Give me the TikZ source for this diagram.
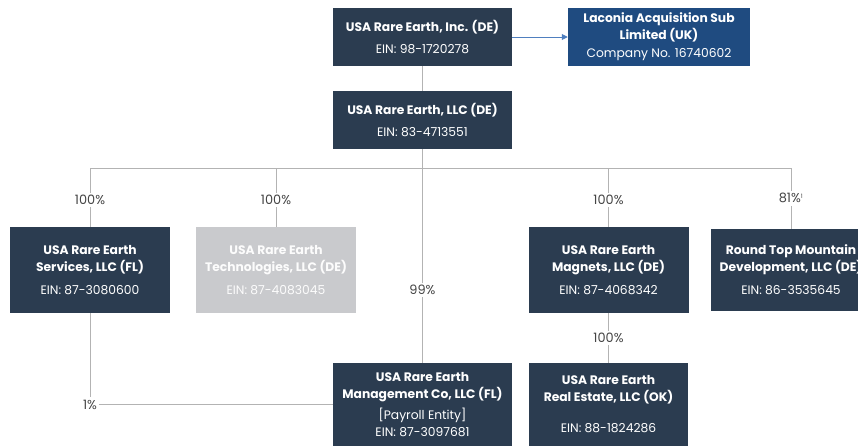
\documentclass[tikz,border=0pt]{standalone}
\usepackage{fontspec}
\setmainfont{Poppins}
\usepackage{tikz}
\usetikzlibrary{arrows.meta, calc, positioning}
\usepackage{xcolor}
\definecolor{navy}{HTML}{2B3C50}
\definecolor{ukblue}{HTML}{1F4B80}
\definecolor{techgray}{HTML}{C9CACD}
\definecolor{linegray}{HTML}{B3B3B3}
\definecolor{arrowblue}{HTML}{4F7FBF}
\definecolor{pcttext}{HTML}{444444}

\begin{document}
\begin{tikzpicture}[x=0.03cm, y=-0.03cm,
    entity/.style={fill=navy, text=white, align=center, inner sep=0pt,
        font=\fontsize{10.5}{14.5}\selectfont},
    wide/.style={entity, minimum width=5.37cm},
    narrow/.style={entity, minimum width=4.8cm, minimum height=2.58cm},
    link/.style={draw=linegray, line width=0.8pt},
    pct/.style={fill=white, inner sep=2pt, text=pcttext, font=\fontsize{11}{13}\selectfont}]
    \useasboundingbox (0,0) rectangle (858,448);

    % 上层公司
    \node[wide, minimum height=1.74cm] (inc) at (422.5,37) {\textbf{USA Rare Earth, Inc. (DE)}\\[5pt]EIN: 98-1720278};
    \node[wide, fill=ukblue, minimum width=5.46cm, minimum height=1.74cm] (lac) at (659,37)
        {\textbf{Laconia Acquisition Sub}\\\textbf{Limited (UK)}\\[1pt]Company No. 16740602};
    \node[wide, minimum height=1.74cm] (llc) at (422.5,120) {\textbf{USA Rare Earth, LLC (DE)}\\[5pt]EIN: 83-4713551};

    % 子公司
    \node[narrow] (svc) at (90,270) {\textbf{USA Rare Earth}\\\textbf{Services, LLC (FL)}\\[5pt]EIN: 87-3080600};
    \node[narrow, fill=techgray, text=white!94!techgray] (tech) at (276,270)
        {\textbf{USA Rare Earth}\\\textbf{Technologies, LLC (DE)}\\[5pt]EIN: 87-4083045};
    \node[narrow] (mag) at (608.5,270) {\textbf{USA Rare Earth}\\\textbf{Magnets, LLC (DE)}\\[5pt]EIN: 87-4068342};
    \node[narrow, minimum height=2.46cm] (rtm) at (791,270) {\textbf{Round Top Mountain}\\\textbf{Development, LLC (DE)}\\[5pt]EIN: 86-3535645};

    % 下层
    \node[wide, minimum height=2.49cm] (mgmt) at (422.5,404.5)
        {\textbf{USA Rare Earth}\\\textbf{Management Co, LLC (FL)}\\[3pt][Payroll Entity]\\EIN: 87-3097681};
    \node[narrow, minimum width=4.77cm, minimum height=2.49cm] (re) at (608.5,404.5)
        {\textbf{USA Rare Earth}\\\textbf{Real Estate, LLC (OK)}\\[12pt]EIN: 88-1824286};

    % 连线
    \coordinate (bus) at (422.5,168);
    \draw[link] (inc) -- (llc);
    \draw[-{Triangle[length=5pt, width=5pt]}, draw=arrowblue, fill=arrowblue, line width=0.8pt] (inc) -- (lac);
    \draw[link] (llc.south) -- (mgmt.north) node[pct, pos=0.66] {99\%};
    \draw[link] (svc.north) -- (svc.north |- bus) node[pct, pos=0.46] {100\%}
        -- (rtm.north |- bus) -- (rtm.north) node[pct, pos=0.5] {81\%\textsuperscript{\fontsize{5}{5}\selectfont1}};
    \draw[link] (tech.north) -- (tech.north |- bus) node[pct, pos=0.46] {100\%};
    \draw[link] (mag.north) -- (mag.north |- bus) node[pct, pos=0.46] {100\%};
    \draw[link] (mag.south) -- (re.north) node[pct, midway] {100\%};
    \draw[link] (svc.south) |- (mgmt.west) node[pct, pos=0.5] {1\%};
\end{tikzpicture}
\end{document}
